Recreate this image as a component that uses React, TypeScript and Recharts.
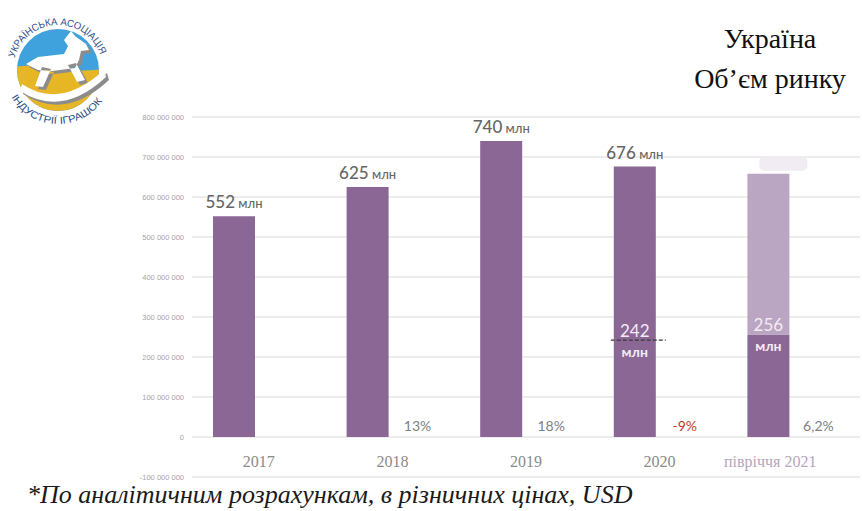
import React from 'react';
import { BarChart, Bar, XAxis, YAxis, CartesianGrid, LabelList } from 'recharts';

// market volume, USD
const years = ['2017', '2018', '2019', '2020', 'півріччя 2021'];
const volume = [552e6, 625e6, 740e6, 676e6, 256e6];
const volumeRest = [null, null, null, null, 402e6];
const volumeLabels = ['552', '625', '740', '676', ''];
const growthPct = [null, 13, 18, -9, 6.2];
const growthLabels = ['', '13%', '18%', '-9%', '6,2%'];
const halfYear = [null, null, null, 242e6, 256e6];
const halfYearLabels = ['', '', '', '242', '256'];
const yTicks = [-100e6, 0, 100e6, 200e6, 300e6, 400e6, 500e6, 600e6, 700e6, 800e6];

const data = years.map((year, i) => ({
  year,
  volume: volume[i],
  rest: volumeRest[i],
  label: volumeLabels[i],
  growth: growthPct[i],
  growthLabel: growthLabels[i],
  half: halfYear[i],
}));

const fmt = (v: number) => {
  const s = String(Math.abs(v)).replace(/\B(?=(\d{3})+(?!\d))/g, ' ');
  return v < 0 ? '-' + s : s;
};

const TopLabel = (props: any) => {
  const vb = props.viewBox || props;
  const { x, y, width } = vb;
  if (!props.value) return null;
  return (
    <text x={x + width / 2} y={y - 8} textAnchor="middle" fill="#666666" fontFamily="Lato">
      <tspan fontSize={17} fontWeight={500}>{props.value}</tspan>
      <tspan fontSize={13} fontWeight={500}> млн</tspan>
    </text>
  );
};

const HalfLabel = (props: any) => {
  const vb = props.viewBox || props;
  const { x, y, width, height } = vb;
  const { value, index } = props;
  if (value == null || index == null) return null;
  const zeroY = y + height;
  const ly = zeroY - (value / volume[index]) * height;
  const cx = x + width / 2;
  const dashed = volumeRest[index] == null;
  return (
    <g>
      {dashed && (
        <line x1={x - 3} x2={x + width + 10} y1={ly} y2={ly} stroke="#3a3a3a" strokeWidth={1.2} strokeDasharray="4 2" />
      )}
      <text x={cx} y={ly - 10} textAnchor="middle" dominantBaseline="central" fill="#f4ecf5" fontSize={17} fontFamily="Lato">
        {halfYearLabels[index]}
      </text>
      <text x={cx} y={ly + 11} textAnchor="middle" dominantBaseline="central" fill="#f4ecf5" fontSize={14} fontWeight="bold" fontFamily="Lato">
        млн
      </text>
    </g>
  );
};

const GrowthLabel = (props: any) => {
  const vb = props.viewBox || props;
  const { x, y, width } = vb;
  const { value } = props;
  if (!value) return null;
  const neg = String(value).startsWith('-');
  return (
    <text x={x + width / 2} y={y - 12} textAnchor="middle" dominantBaseline="central" fill={neg ? '#c0392b' : '#808080'} fontSize={14} fontFamily="Lato">
      {value}
    </text>
  );
};

const Blob = (props: any) => {
  const vb = props.viewBox || props;
  const { x, y } = vb;
  if (props.value == null) return null;
  return <rect x={x + 12} y={y - 17} width={48} height={14} rx={5} fill="#f1ebf3" />;
};

const YearTick = (props: any) => {
  const { x, y, payload, index } = props;
  const last = index === years.length - 1;
  return (
    <text x={x} y={y} dx={last ? -23 : 0} dy={-18} textAnchor="middle" fill={last ? '#b5a5be' : '#8a8a8a'} fontSize={16} fontFamily="Liberation Serif">
      {payload.value}
    </text>
  );
};

const Logo = () => {
  const cx = 58;
  const cy = 70;
  const r = 41;
  const pt = (rad: number, a: number) =>
    `${cx + rad * Math.cos((a * Math.PI) / 180)} ${cy - rad * Math.sin((a * Math.PI) / 180)}`;
  const topArc = `M ${pt(45, 165)} A 45 45 0 0 1 ${pt(45, 15)}`;
  const bottomArc = `M ${pt(54, 210)} A 54 54 0 0 0 ${pt(54, 330)}`;
  const horse =
    'M26 64 L38 57 L64 54 L68 46 L64 40 L71 31 L75 36 L86 44 L89 50 L81 51 L79 60 L75 68 L52 71 L38 70 Z ' +
    'M42 67 L35 86 L43 87 L51 69 Z M68 65 L77 82 L85 80 L76 63 Z';
  const rocker = 'M22 84 Q60 110 104 70 L106 77 Q62 118 20 91 Z';
  return (
    <svg width={120} height={130} style={{ position: 'absolute', left: 0, top: 0 }}>
      <defs>
        <clipPath id="logoClip">
          <circle cx={cx} cy={cy} r={r} />
        </clipPath>
        <path id="topArc" d={topArc} />
        <path id="bottomArc" d={bottomArc} />
      </defs>
      <g clipPath="url(#logoClip)">
        <rect x={0} y={0} width={120} height={130} fill="#3fa2dd" />
        <path d="M0 70 Q30 62 58 68 Q85 74 120 66 L120 130 L0 130 Z" fill="#e7b625" />
      </g>
      <g transform="translate(3 3)" fill="#8c8c8c">
        <path d={horse} />
        <path d={rocker} />
      </g>
      <g fill="#ffffff">
        <path d={horse} />
        <path d={rocker} />
      </g>
      <text fontSize={10} fill="#2c4e85" fontFamily="Liberation Sans">
        <textPath href="#topArc" textLength={114} lengthAdjust="spacingAndGlyphs">
          УКРАЇНСЬКА АСОЦІАЦІЯ
        </textPath>
      </text>
      <text fontSize={10} fill="#2c4e85" fontFamily="Liberation Sans">
        <textPath href="#bottomArc" textLength={108} lengthAdjust="spacingAndGlyphs">
          ІНДУСТРІЇ ІГРАШОК
        </textPath>
      </text>
    </svg>
  );
};

export default function App() {
  return (
    <div style={{ position: 'absolute', left: 0, top: 0, width: 862, height: 511, background: '#fff', overflow: 'hidden' }}>
      <Logo />
      <div
        style={{
          position: 'absolute',
          left: 670,
          top: 19,
          width: 200,
          textAlign: 'center',
          fontFamily: 'Liberation Serif',
          fontSize: 28,
          lineHeight: '40px',
          color: '#111',
        }}
      >
        Україна
        <br />
        Об’єм ринку
      </div>
      <BarChart
        width={862}
        height={511}
        data={data}
        margin={{ top: 117, right: 2, left: 0, bottom: 4 }}
        barGap={8}
        style={{ position: 'absolute', left: 0, top: 0 }}
      >
        <CartesianGrid vertical={false} stroke="#dadada" />
        <XAxis dataKey="year" axisLine={false} tickLine={false} height={30} tick={<YearTick />} interval={0} />
        <YAxis
          width={192}
          domain={[-100e6, 800e6]}
          ticks={yTicks}
          tickFormatter={fmt}
          axisLine={false}
          tickLine={false}
          tick={{ fontSize: 7.5, fill: '#a3a3a3', fontFamily: 'Liberation Sans' }}
          interval={0}
        />
        <Bar dataKey="volume" stackId="a" fill="#8a6794" barSize={42} isAnimationActive={false}>
          <LabelList dataKey="label" content={<TopLabel />} />
          <LabelList dataKey="half" content={<HalfLabel />} />
        </Bar>
        <Bar dataKey="rest" stackId="a" fill="#baa5c2" barSize={42} isAnimationActive={false}>
          <LabelList dataKey="rest" content={<Blob />} />
        </Bar>
        <Bar dataKey="growth" fill="transparent" barSize={42} isAnimationActive={false}>
          <LabelList dataKey="growthLabel" content={<GrowthLabel />} />
        </Bar>
      </BarChart>
      <div
        style={{
          position: 'absolute',
          left: 27,
          top: 480,
          fontFamily: 'Liberation Serif',
          fontStyle: 'italic',
          fontSize: 26,
          color: '#1a1a1a',
          whiteSpace: 'nowrap',
        }}
      >
        *По аналітичним розрахункам, в різничних цінах, USD
      </div>
    </div>
  );
}
